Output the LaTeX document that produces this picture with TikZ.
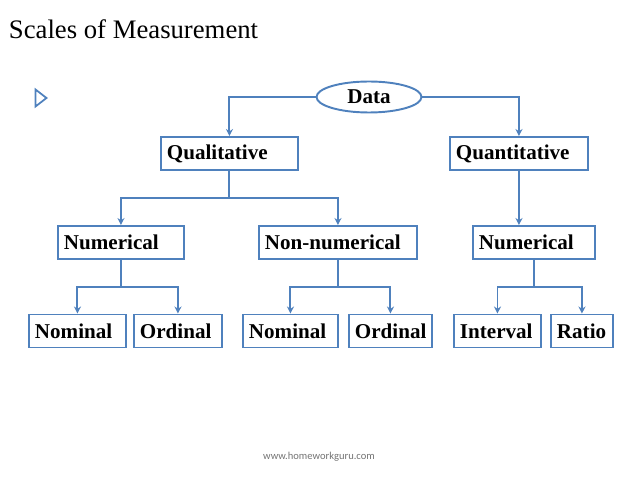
\documentclass[tikz,border=0pt]{standalone}
\usepackage{fontspec}
\setmainfont{Liberation Serif}
\newfontfamily\footfont{Carlito}
\usetikzlibrary{arrows.meta,shapes.geometric}
\definecolor{boxblue}{RGB}{79,129,189}
\definecolor{footgray}{gray}{0.45}

\begin{document}
\begin{tikzpicture}[x=0.02cm,y=-0.02cm,line width=1.1pt,
  box/.style={draw=boxblue,anchor=west,minimum height=0.66cm,inner xsep=0.12cm,
    inner ysep=0pt,align=left,font=\fontsize{12}{14}\selectfont\bfseries},
  link/.style={draw=boxblue,-{Stealth[length=4pt,width=4pt]}},
  stem/.style={draw=boxblue}]
  \useasboundingbox (0,0) rectangle (638,479);
  % title and bullet
  \node[anchor=base west,inner sep=0pt,font=\fontsize{15.2}{18}\selectfont] (title) at (8,39) {Scales of Measurement};
  \draw[boxblue,line width=1pt,line join=miter] (35.5,89.5) -- (35.5,106.5) -- (46.5,98) -- cycle;
  % top
  \node[ellipse,draw=boxblue,minimum width=2.1cm,minimum height=0.62cm,inner sep=0pt,
    font=\fontsize{12}{14}\selectfont\bfseries] (data) at (369,97) {Data};
  \node[box,text width=2.50cm] (qual) at (160,153.5) {Qualitative};
  \node[box,text width=2.52cm] (quant) at (449,153.5) {Quantitative};
  % middle row
  \node[box,text width=2.28cm] (numl) at (57,242.5) {Numerical};
  \node[box,text width=2.92cm] (nonnum) at (258,242.5) {Non-numerical};
  \node[box,text width=2.20cm] (numr) at (472,242.5) {Numerical};
  % bottom row
  \node[box,text width=1.70cm] (nom1) at (28,331) {Nominal};
  \node[box,text width=1.52cm] (ord1) at (133,331) {Ordinal};
  \node[box,text width=1.66cm] (nom2) at (242,331) {Nominal};
  \node[box,text width=1.42cm] (ord2) at (348,331) {Ordinal};
  \node[box,text width=1.50cm] (intv) at (453,331) {Interval};
  \node[box,text width=1.00cm] (ratio) at (550,331) {Ratio};
  % connectors
  \draw[link] (data.west) -| (qual.north);
  \draw[link] (data.east) -| (quant.north);
  \coordinate (qsplit) at (qual.south |- 0,198);
  \draw[stem] (qual.south) -- (qsplit);
  \draw[link] (qsplit) -| (numl.north);
  \draw[link] (qsplit) -| (nonnum.north);
  \draw[link] (quant.south) -- (quant.south |- numr.north);
  \coordinate (lsplit) at (numl.south |- 0,287);
  \draw[stem] (numl.south) -- (lsplit);
  \draw[link] (lsplit) -| (nom1.north);
  \draw[link] (lsplit) -| (ord1.north);
  \coordinate (msplit) at (nonnum.south |- 0,287);
  \draw[stem] (nonnum.south) -- (msplit);
  \draw[link] (msplit) -| (nom2.north);
  \draw[link] (msplit) -| (ord2.north);
  \coordinate (rsplit) at (numr.south |- 0,287);
  \draw[stem] (numr.south) -- (rsplit);
  \draw[link] (rsplit) -| (intv.north);
  \draw[link] (rsplit) -| (ratio.north);
  % footer
  \node[text=footgray,font=\footfont\fontsize{6}{7}\selectfont] (foot) at (319,457) {www.homeworkguru.com};
\end{tikzpicture}
\end{document}
